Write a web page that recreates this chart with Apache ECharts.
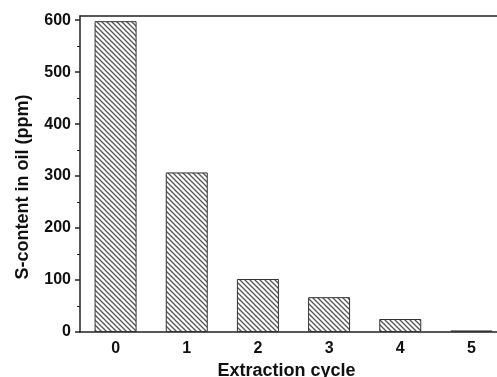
<!DOCTYPE html>
<html>
<head>
<meta charset="utf-8">
<script src="https://cdn.jsdelivr.net/npm/echarts@6/dist/echarts.min.js"></script>
<style>html,body{margin:0;padding:0;background:#fff}#c{width:497px;height:377px}</style>
</head>
<body>
<div id="c"></div>
<script>
var categories = ['0', '1', '2', '3', '4', '5'];
var sContent = [598, 307, 102, 67, 25, 3];
var yTicks = [0, 100, 200, 300, 400, 500, 600];

function hatch() {
  var s = 5;
  var c = document.createElement('canvas');
  c.width = s; c.height = s;
  var g = c.getContext('2d');
  g.fillStyle = '#fff'; g.fillRect(0, 0, s, s);
  g.strokeStyle = '#555'; g.lineWidth = 1.3;
  g.beginPath();
  g.moveTo(-1, -1); g.lineTo(s + 1, s + 1);
  g.moveTo(-1, s - 1); g.lineTo(1, s + 1);
  g.moveTo(s - 1, -1); g.lineTo(s + 1, 1);
  g.stroke();
  return c;
}

var chart = echarts.init(document.getElementById('c'), null, {renderer: 'canvas'});
var font = '"Liberation Sans", Arial, sans-serif';
chart.setOption({
  animation: false,
  grid: {left: 80, width: 427, top: 16, bottom: 45, containLabel: false, outerBoundsMode: 'none'},
  xAxis: [{
    type: 'category',
    data: categories,
    name: 'Extraction cycle',
    nameLocation: 'middle',
    nameGap: 27,
    nameTextStyle: {fontFamily: font, fontWeight: 'bold', fontSize: 18, color: '#111', padding: [0, 14, 0, 0]},
    axisLine: {lineStyle: {color: '#222', width: 1.5}},
    axisTick: {alignWithLabel: true, length: 5, lineStyle: {color: '#222', width: 1.5}},
    axisLabel: {fontFamily: font, fontWeight: 'bold', fontSize: 16, color: '#111', margin: 9}
  }, {
    type: 'category',
    position: 'top',
    data: categories,
    axisLine: {show: true, lineStyle: {color: '#222', width: 1.5}},
    axisTick: {show: false},
    axisLabel: {show: false}
  }],
  yAxis: {
    type: 'value',
    min: 0,
    max: 608,
    interval: 100,
    name: 'S-content in oil (ppm)',
    nameLocation: 'middle',
    nameGap: 48,
    nameTextStyle: {fontFamily: font, fontWeight: 'bold', fontSize: 18, color: '#111', padding: [0, 26, 0, 0]},
    splitLine: {show: false},
    axisLine: {show: true, lineStyle: {color: '#222', width: 1.5}},
    axisTick: {show: true, length: 5, customValues: yTicks, lineStyle: {color: '#222', width: 1.5}},
    minorTick: {show: true, splitNumber: 2, length: 3, lineStyle: {color: '#222', width: 1}},
    axisLabel: {fontFamily: font, fontWeight: 'bold', fontSize: 16, color: '#111', margin: 9, customValues: yTicks}
  },
  series: [{
    type: 'bar',
    data: sContent,
    barWidth: 42,
    itemStyle: {
      color: {image: hatch(), repeat: 'repeat'},
      borderColor: '#333',
      borderWidth: 1
    }
  }]
});
</script>
</body>
</html>
